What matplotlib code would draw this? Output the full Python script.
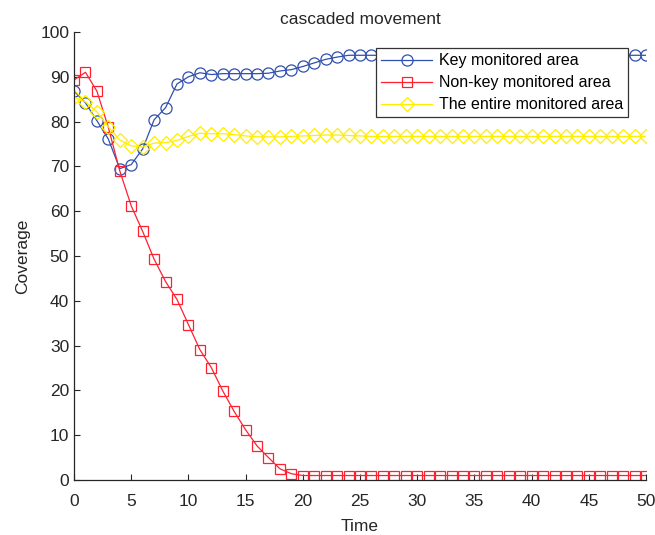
import numpy as np
import matplotlib
matplotlib.use("Agg")
import matplotlib.pyplot as plt

plt.rcParams['font.family'] = ['Liberation Sans', 'DejaVu Sans']

# coverage per time step
time = np.arange(0, 51)

key_area = [86.8, 84.2, 80.2, 76.1, 69.5, 70.4, 73.9, 80.4, 83.1, 88.4,
            90.0, 90.9, 90.5, 90.7, 90.7, 90.7, 90.7, 90.8, 91.3, 91.6,
            92.3, 93.1, 93.9, 94.4, 94.8, 94.8, 94.8, 94.8, 94.8, 94.8,
            94.8, 94.8, 94.8, 94.8, 94.8, 94.8, 94.8, 94.8, 94.8, 94.8,
            94.8, 94.8, 94.8, 94.8, 94.8, 94.8, 94.8, 94.8, 94.8, 94.8,
            94.8]

nonkey_area = [89.3, 91.0, 86.8, 78.7, 69.0, 61.2, 55.5, 49.3, 44.3, 40.3,
               34.7, 29.1, 25.1, 19.9, 15.3, 11.2, 7.6, 5.0, 2.5, 1.4,
               1.0, 1.0, 1.0, 1.0, 1.0, 1.0, 1.0, 1.0, 1.0, 1.0,
               1.0, 1.0, 1.0, 1.0, 1.0, 1.0, 1.0, 1.0, 1.0, 1.0,
               1.0, 1.0, 1.0, 1.0, 1.0, 1.0, 1.0, 1.0, 1.0, 1.0,
               1.0]

entire_area = [85.5, 84.4, 82.2, 78.8, 75.9, 74.6, 74.3, 75.2, 75.3, 75.8,
               76.7, 77.4, 77.3, 77.3, 77.1, 76.8, 76.6, 76.6, 76.6, 76.7,
               76.8, 76.9, 77.0, 77.0, 76.9, 76.8, 76.7, 76.7, 76.7, 76.7,
               76.7, 76.7, 76.7, 76.7, 76.7, 76.7, 76.7, 76.7, 76.7, 76.7,
               76.7, 76.7, 76.7, 76.7, 76.7, 76.7, 76.7, 76.7, 76.7, 76.7,
               76.7]

labels = ["Key monitored area", "Non-key monitored area", "The entire monitored area"]

fig = plt.figure(figsize=(6.55, 5.35), dpi=100)
ax = fig.add_axes([0.113, 0.1028, 0.8733, 0.8374])

ms = 8
lw = 0.9
ax.plot(time, key_area, color='#3050B0', marker='o', ms=ms, mfc='none', mew=lw, lw=lw, label=labels[0])
ax.plot(time, nonkey_area, color='#FF2030', marker='s', ms=ms - 0.8, mfc='none', mew=lw, lw=lw, label=labels[1])
ax.plot(time, entire_area, color='#FFEE00', marker='D', ms=ms - 0.8, mfc='none', mew=lw, lw=lw, label=labels[2])

ax.set_xlim(0, 50)
ax.set_ylim(0, 100)
ax.set_xticks(np.arange(0, 51, 5))
ax.set_yticks(np.arange(0, 101, 10))
ax.tick_params(direction='in', length=4, width=0.8, labelsize=12.5, colors='#262626')
ax.tick_params(axis='x', pad=10)
for side in ['top', 'right']:
    ax.spines[side].set_visible(False)
for side in ['left', 'bottom']:
    ax.spines[side].set_color('#262626')
    ax.spines[side].set_linewidth(0.9)

ax.set_title("cascaded movement", fontsize=12.5, color='#262626', pad=6)
ax.set_xlabel("Time", fontsize=12.5, color='#262626', labelpad=7)
ax.set_ylabel("Coverage", fontsize=12.5, color='#262626', labelpad=7)

leg = ax.legend(loc='upper right', bbox_to_anchor=(0.968, 0.9636), borderaxespad=0,
                fontsize=11.5, fancybox=False, framealpha=1, edgecolor='#333333',
                handlelength=3.2, labelspacing=0.45, borderpad=0.3, handletextpad=0.4)
leg.get_frame().set_linewidth(0.9)

fig.savefig("out.png", dpi=100)
